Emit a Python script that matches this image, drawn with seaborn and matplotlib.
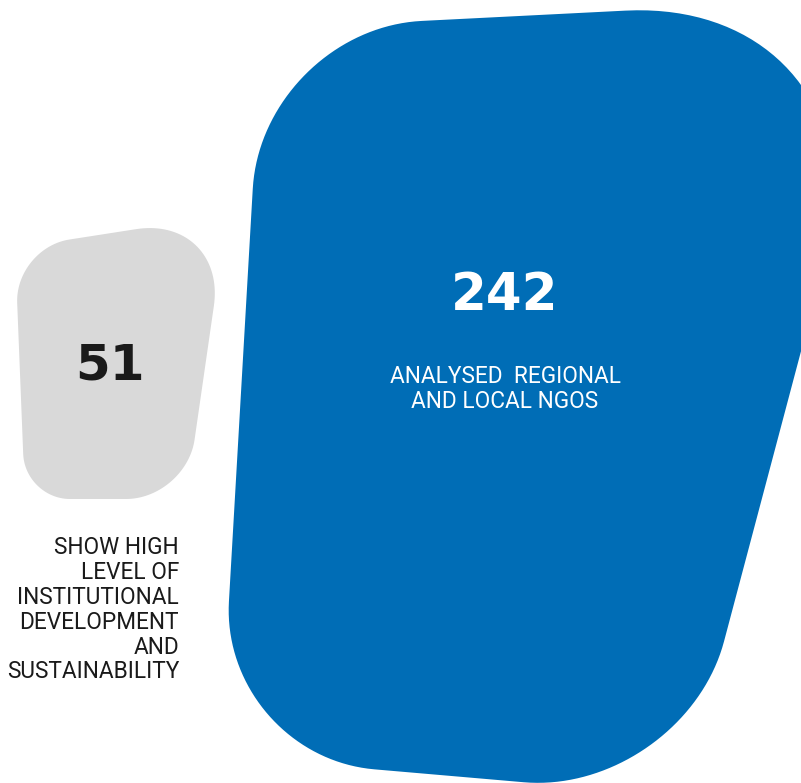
import numpy as np
import seaborn as sns
import matplotlib.pyplot as plt
from matplotlib.patches import Polygon

# --- DATA ---
values = [242, 51]
value_labels = ["242", "51"]
captions = ["ANALYSED  REGIONAL\nAND LOCAL NGOS",
            "SHOW HIGH\nLEVEL OF\nINSTITUTIONAL\nDEVELOPMENT\nAND\nSUSTAINABILITY"]

# --- SHAPES (pixel space, y down): corner points and corner radii ---
BLUE_CORNERS = [(262, 29), (895, -3), (683, 796), (220, 756)]
BLUE_RADII = [160, 270, 160, 155]
GREY_CORNERS = [(15, 248), (227, 215), (186, 499), (25, 499)]
GREY_RADII = [55, 92, 60, 45]

BLUE = "#006DB6"
GREY = "#D9D9D9"
W, H = 801, 783


# --- HELPER: rounded polygon outline ---
def rounded_outline(corners, radii, k=0.55, n=40):
    pts = np.array(corners, dtype=float)
    m = len(pts)
    out = []
    for i in range(m):
        prev_p, v, next_p = pts[i - 1], pts[i], pts[(i + 1) % m]
        r = radii[i]
        d_in = (prev_p - v) / np.linalg.norm(prev_p - v)
        d_out = (next_p - v) / np.linalg.norm(next_p - v)
        p0 = v + d_in * r
        p3 = v + d_out * r
        c1 = p0 + k * (v - p0)
        c2 = p3 + k * (v - p3)
        t = np.linspace(0, 1, n)[:, None]
        curve = ((1 - t) ** 3) * p0 + 3 * ((1 - t) ** 2) * t * c1 + 3 * (1 - t) * t ** 2 * c2 + t ** 3 * p3
        out.append(curve)
    return np.vstack(out)


sns.set_theme(style="white")
plt.rcParams['font.family'] = ['Roboto', 'DejaVu Sans']

fig = plt.figure(figsize=(W / 100, H / 100), dpi=100)
ax = fig.add_axes([0, 0, 1, 1])
ax.set_xlim(0, W)
ax.set_ylim(H, 0)
ax.axis("off")

ax.add_patch(Polygon(rounded_outline(BLUE_CORNERS, BLUE_RADII), closed=True,
                     facecolor=BLUE, edgecolor="none"))
ax.add_patch(Polygon(rounded_outline(GREY_CORNERS, GREY_RADII), closed=True,
                     facecolor=GREY, edgecolor="none"))

# big numbers
ax.text(505, 296, value_labels[0], ha="center", va="center", color="white",
        fontsize=37, fontweight="bold", family="DejaVu Sans")
ax.text(110, 366, value_labels[1], ha="center", va="center", color="#1a1a1a",
        fontsize=36, fontweight="bold", family="DejaVu Sans")

# captions
ax.text(505, 389, captions[0], ha="center", va="center", color="white",
        fontsize=16.3, fontweight="normal", linespacing=1.1)
ax.text(179, 610, captions[1], ha="right", va="center", color="#1a1a1a",
        fontsize=16.3, fontweight="normal", linespacing=1.1)

fig.savefig("out.png", dpi=100)
